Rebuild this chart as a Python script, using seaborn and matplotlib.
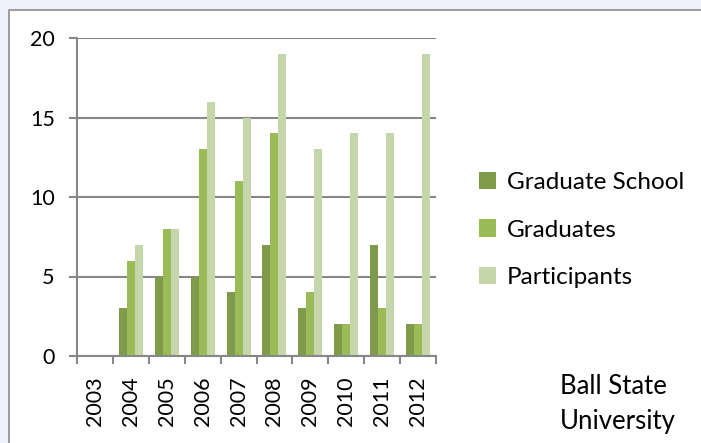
import pandas as pd
import numpy as np
import matplotlib.pyplot as plt
import seaborn as sns
from matplotlib.patches import Rectangle

# Data
years = ['2003', '2004', '2005', '2006', '2007', '2008', '2009', '2010', '2011', '2012']
grad_school = [0, 3, 5, 5, 4, 7, 3, 2, 7, 2]
graduates = [0, 6, 8, 13, 11, 14, 4, 2, 3, 2]
participants = [0, 7, 8, 16, 15, 19, 13, 14, 14, 19]
series_names = ['Graduate School', 'Graduates', 'Participants']
colors = ['#7f9a48', '#9bbb59', '#c5d6aa']

df = pd.DataFrame({
    'Year': years * 3,
    'Count': grad_school + graduates + participants,
    'Series': [s for s in series_names for _ in years],
})

sns.set_theme(style="white")
plt.rcParams['font.family'] = ['Lato', 'DejaVu Sans']
plt.rcParams['text.color'] = 'black'
plt.rcParams['xtick.labelcolor'] = 'black'
plt.rcParams['ytick.labelcolor'] = 'black'

fig = plt.figure(figsize=(7.01, 4.43), dpi=100)
fig.patch.set_facecolor('#f0f0fa')
# white chart panel with grey border
panel = Rectangle((9 / 701, -0.05), 1.0, 1 - 10 / 443 + 0.05,
                  transform=fig.transFigure, facecolor='white',
                  edgecolor='#8c8c8c', linewidth=1.2, zorder=-10)
fig.add_artist(panel)

ax = fig.add_axes([77 / 701, 1 - 356 / 443, (436 - 77) / 701, (356 - 38) / 443])
ax.set_facecolor('none')
sns.barplot(data=df, x='Year', y='Count', hue='Series', palette=colors,
            saturation=1, width=0.67, linewidth=0, ax=ax, legend=True)

ax.set_xlim(-0.5, len(years) - 0.5)
ax.set_ylim(0, 20)
ax.set_yticks([0, 5, 10, 15, 20])
ax.yaxis.grid(True, color='#878787', linewidth=1.5)
ax.set_axisbelow(True)
ax.set_xlabel('')
ax.set_ylabel('')

# category boundary ticks on x
ax.set_xticks(np.arange(len(years)))
ax.set_xticklabels(years, rotation=90, fontsize=15.5)
ax.set_xticks(np.arange(len(years) + 1) - 0.5, minor=True)
ax.tick_params(axis='x', which='major', length=0, pad=15)
ax.tick_params(axis='x', which='minor', length=6, width=1.5, color='#878787', direction='out', bottom=True)
ax.tick_params(axis='y', length=6, width=1.5, color='#878787', direction='out', left=True, labelsize=15.5, pad=10)

for side in ['top', 'right']:
    ax.spines[side].set_visible(False)
for side in ['left', 'bottom']:
    ax.spines[side].set_color('#878787')
    ax.spines[side].set_linewidth(1.5)

handles, labels = ax.get_legend_handles_labels()
ax.legend_.remove()
fig.legend(handles, labels, loc='center left', bbox_to_anchor=(457 / 701, 1 - 230 / 443),
           frameon=False, fontsize=17.5, handlelength=0.7, handleheight=0.7,
           handletextpad=0.45, labelspacing=1.1)

fig.text(560 / 701, 1 - 387 / 443, 'Ball State', fontsize=18.5, va='center', ha='left')
fig.text(560 / 701, 1 - 422 / 443, 'University', fontsize=18.5, va='center', ha='left')

plt.savefig('out.png', dpi=100, facecolor=fig.get_facecolor())
